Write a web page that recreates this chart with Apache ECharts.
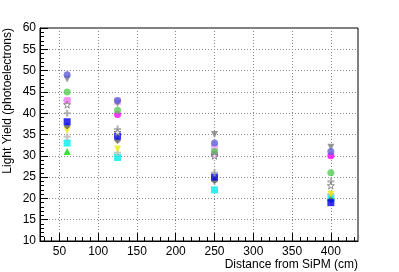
<!DOCTYPE html>
<html><head><meta charset="utf-8">
<script src="https://cdn.jsdelivr.net/npm/echarts@6/dist/echarts.min.js"></script>
<style>html,body{margin:0;padding:0;background:#fff}#c{width:399px;height:272px}</style>
</head><body><div id="c"></div>
<script>
const distances = [60, 125, 250, 400];
const xMajorTicks = [50, 100, 150, 200, 250, 300, 350, 400];
const xMinorTicks = [30,40,50,60,70,80,90,100,110,120,130,140,150,160,170,180,190,200,210,220,230,240,250,260,270,280,290,300,310,320,330,340,350,360,370,380,390,400,410,420,430];

const sGreenTri     = [31, null, null, 20.3];
const sCyanSquare   = [33, 29.6, 22, 20];
const sLightGray    = [34.5, 30.7, 24, 21];
const sYellowTri    = [36, 31.6, 24.5, 21];
const sDarkGray     = [37, 33.6, 24.2, 19.6];
const sBlueSquare   = [38, 34.6, 25, 19];
const sGrayCross    = [40, 36.3, 26, 24];
const sMagenta      = [43, 39.7, 30.5, 30];
const sPinkSquare   = [43, 42.8, 32, null];
const sGrayStar     = [42, 35.5, 30, 23];
const sGreenCircle  = [45, 40.7, 31, 26];
const sGrayTriDown  = [48, 42.3, 35, 32];
const sBlueCircle   = [49, 43, 33, 31];

const TRI_DOWN = 'path://M0,0 L10,0 L5,10 Z';
const CROSS = 'path://M3.5,0 L6.5,0 L6.5,3.5 L10,3.5 L10,6.5 L6.5,6.5 L6.5,10 L3.5,10 L3.5,6.5 L0,6.5 L0,3.5 L3.5,3.5 Z';
const STAR = 'path://M5,0 L6.2,3.6 L10,3.6 L7,5.9 L8.1,9.5 L5,7.3 L1.9,9.5 L3,5.9 L0,3.6 L3.8,3.6 Z';

const seriesDefs = [
  {name:'Green triangle', data:sGreenTri, symbol:'triangle', color:'#00dd00'},
  {name:'Cyan square', data:sCyanSquare, symbol:'rect', color:'#00eeee'},
  {name:'Light gray', data:sLightGray, symbol:CROSS, color:'#b8b8b8'},
  {name:'Yellow triangle', data:sYellowTri, symbol:TRI_DOWN, color:'#eeee00'},
  {name:'Dark gray', data:sDarkGray, symbol:'diamond', color:'#606060'},
  {name:'Blue square', data:sBlueSquare, symbol:'rect', color:'#0000ee'},
  {name:'Gray cross', data:sGrayCross, symbol:CROSS, color:'#a0a0a0'},
  {name:'Magenta', data:sMagenta, symbol:'circle', color:'#ff00ff'},
  {name:'Pink square', data:sPinkSquare, symbol:'rect', color:'#f0a8f0'},
  {name:'Gray star', data:sGrayStar, symbol:STAR, color:'#707070', empty:true},
  {name:'Green circle', data:sGreenCircle, symbol:'circle', color:'#55cc55'},
  {name:'Gray triangle', data:sGrayTriDown, symbol:TRI_DOWN, color:'#808080'},
  {name:'Blue circle', data:sBlueCircle, symbol:'circle', color:'#6060d8'}
];

const font = 'Liberation Sans';
const chart = echarts.init(document.getElementById('c'), null, {renderer:'canvas'});
const series = seriesDefs.map(d => ({
  name: d.name, type:'scatter', xAxisIndex:0, yAxisIndex:0,
  symbol: d.symbol, symbolSize: 7,
  itemStyle: d.empty ? {color:'#ffffff', borderColor:d.color, borderWidth:1} : {color:d.color},
  data: distances.map((x,i)=>[x, d.data[i]]).filter(p => p[1] !== null)
}));

chart.setOption({
  animation:false,
  backgroundColor:'#ffffff',
  grid:{left:40, right:41, top:28, bottom:31, show:true, borderColor:'#000', borderWidth:1, backgroundColor:'transparent'},
  xAxis:[{
    type:'value', min:25, max:435,
    axisLine:{show:true, lineStyle:{color:'#000'}},
    axisTick:{show:true, inside:true, length:8, customValues:xMajorTicks, lineStyle:{color:'#000'}},
    axisLabel:{customValues:xMajorTicks, color:'#000', fontFamily:font, fontSize:12, margin:5},
    splitLine:{show:true, customValues:xMajorTicks, lineStyle:{color:'#888', type:[1,2], width:1}},
    name:'Distance from SiPM (cm)', nameLocation:'end', nameGap:0,
    nameTextStyle:{color:'#000', fontFamily:font, fontSize:12, align:'right', verticalAlign:'top', padding:[18,0,0,0]}
  },{
    type:'value', min:25, max:435, position:'bottom',
    axisLine:{show:false}, axisLabel:{show:false}, splitLine:{show:false},
    axisTick:{show:true, inside:true, length:4, customValues:xMinorTicks, lineStyle:{color:'#000'}}
  }],
  yAxis:[{
    type:'value', min:10, max:60, interval:5,
    axisLine:{show:true, lineStyle:{color:'#000'}},
    axisTick:{show:true, inside:true, length:8, lineStyle:{color:'#000'}},
    minorTick:{show:true, splitNumber:5, length:4, lineStyle:{color:'#000'}},
    axisLabel:{color:'#000', fontFamily:font, fontSize:12, margin:4},
    splitLine:{show:true, lineStyle:{color:'#888', type:[1,2], width:1}},
    name:'Light Yield (photoelectrons)', nameLocation:'end', nameRotate:90, nameGap:0,
    nameTextStyle:{color:'#000', fontFamily:font, fontSize:12, align:'right', verticalAlign:'bottom', padding:[0,0,26,0]}
  }],
  series: series
});
</script></body></html>
